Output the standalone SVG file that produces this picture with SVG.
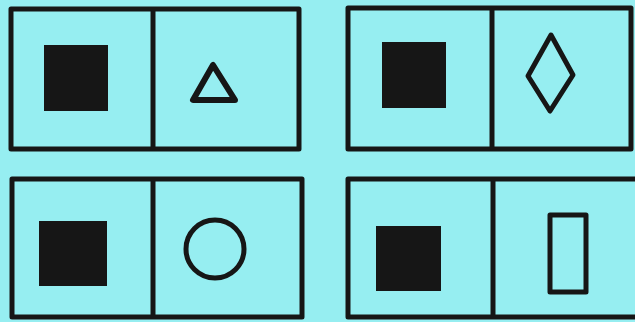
<svg xmlns="http://www.w3.org/2000/svg" width="635" height="322" viewBox="0 0 635 322">
<style>
.box{fill:none;stroke:#161616;stroke-width:5;stroke-linejoin:round}
.solid{fill:#161616;stroke:#161616;stroke-width:2}
.shape{fill:none;stroke:#161616;stroke-width:5;stroke-linejoin:round}
</style>
<rect width="635" height="322" fill="#96eef1"/>
<g id="panel-tl">
<rect class="box" x="11" y="9" width="288" height="140"/>
<line class="box" x1="153" y1="9" x2="153" y2="149"/>
<rect class="solid" x="45" y="46" width="62" height="64"/>
<polygon class="shape" points="213,65 193,100 235,100" style="stroke-width:6"/>
</g>
<g id="panel-tr">
<rect class="box" x="348" y="8" width="283" height="141"/>
<line class="box" x1="492" y1="8" x2="492" y2="149"/>
<rect class="solid" x="383" y="43" width="62" height="64"/>
<polygon class="shape" points="551,35 573,75 550,111 528,76"/>
</g>
<g id="panel-bl">
<rect class="box" x="12" y="179" width="290" height="138"/>
<line class="box" x1="153" y1="179" x2="153" y2="317"/>
<rect class="solid" x="40" y="222" width="66" height="63"/>
<circle class="shape" cx="215" cy="249" r="29"/>
</g>
<g id="panel-br">
<rect class="box" x="348" y="179" width="290" height="138"/>
<line class="box" x1="493" y1="179" x2="493" y2="317"/>
<rect class="solid" x="377" y="227" width="63" height="63"/>
<rect class="shape" x="550" y="215" width="36" height="77"/>
</g>
</svg>
